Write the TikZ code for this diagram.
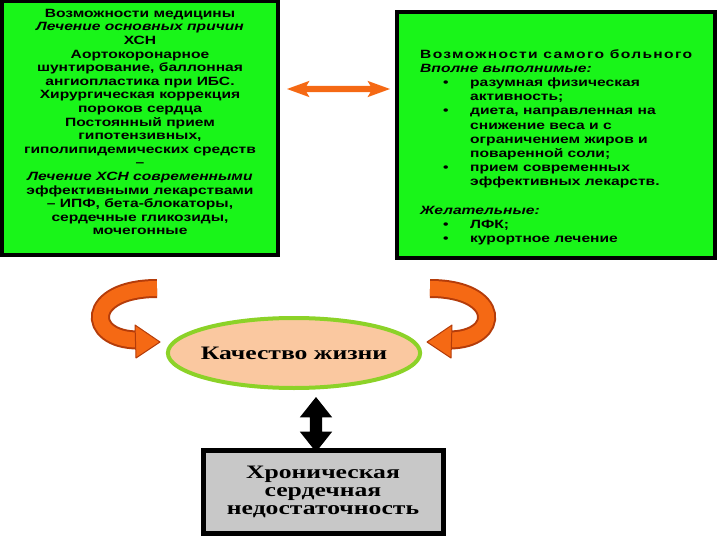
\documentclass[tikz,border=0pt]{standalone}
\usepackage{fontspec}
\setmainfont{Liberation Serif}
\newfontfamily\boxfont[FakeStretch=1.3]{Liberation Sans}
\newfontfamily\widserif[FakeStretch=1.35]{Liberation Serif}
\usetikzlibrary{shapes.geometric,shapes.arrows}
\definecolor{boxgreen}{RGB}{25,245,25}
\definecolor{arroworange}{RGB}{245,105,20}
\definecolor{arrowdark}{RGB}{180,60,10}
\definecolor{peach}{RGB}{250,200,160}
\definecolor{limeedge}{RGB}{140,210,40}
\definecolor{greyfill}{RGB}{200,200,200}
\newcommand\rbul{\makebox[50pt][l]{\hspace*{23pt}\textbullet}}
\newcommand\rcont{\hspace*{50pt}}
\tikzset{
  greenbox/.style={draw=black, line width=4pt, fill=boxgreen},
  boxtext/.style={font=\boxfont\bfseries\fontsize{12}{13.6}\selectfont, inner sep=0pt},
  curvtail/.style={line width=19pt, draw=arrowdark},
  curvbody/.style={line width=15pt, draw=arroworange},
  curvhead/.style={fill=arroworange, draw=arrowdark, line width=1pt, line join=round},
}
\begin{document}
\begin{tikzpicture}[x=1pt,y=-1pt]
\useasboundingbox (0,0) rectangle (720,540);
% green boxes
\draw[greenbox] (2,1) rectangle (278,255);
\draw[greenbox] (397,12) rectangle (715,258);
\node[boxtext, align=center] (lt) at (140,122) {Возможности медицины\\
\textit{Лечение основных причин}\\
ХСН\\
Аортокоронарное\\
шунтирование, баллонная\\
ангиопластика при ИБС.\\
Хирургическая коррекция\\
пороков сердца\\
Постоянный прием\\
гипотензивных,\\
гиполипидемических средств\\
–\\
\textit{Лечение ХСН современными}\\
эффективными лекарствами\\
– ИПФ, бета-блокаторы,\\
сердечные гликозиды,\\
мочегонные};
\node[boxtext, font=\boxfont\bfseries\fontsize{12}{14.2}\selectfont, align=left, anchor=north west] (rt) at (420,49)
{{\addfontfeature{LetterSpace=11}Возможности самого больного}\\
\textit{Вполне выполнимые:}\\
\rbul разумная физическая\\
\rcont активность;\\
\rbul диета, направленная на\\
\rcont снижение веса и с\\
\rcont ограничением жиров и\\
\rcont поваренной соли;\\
\rbul прием современных\\
\rcont эффективных лекарств.\\
\mbox{}\\
\textit{Желательные:}\\
\rbul ЛФК;\\
\rbul курортное лечение};
% horizontal orange double arrow
\node[double arrow, fill=arroworange, inner xsep=0pt, inner ysep=3pt, minimum height=103pt,
      double arrow head extend=5pt, double arrow tip angle=40, double arrow head indent=3pt] (harr) at (338.5,89) {};
% ellipse
\node[ellipse, draw=limeedge, line width=4pt, fill=peach, minimum width=252pt, minimum height=70pt,
      inner xsep=-4pt, inner ysep=8pt,
      font=\widserif\bfseries\fontsize{19}{22}\selectfont] (q) at (294,353) {Качество жизни};
% curved arrows
\draw[curvtail] (157,288.5) .. controls (85,288.5) and (85,340) .. (138,340);
\draw[curvbody] (157,288.5) .. controls (85,288.5) and (85,340) .. (138,340);
\draw[curvhead] (135,325) -- (160,342) -- (136,358) -- cycle;
\draw[curvtail] (430,288.5) .. controls (502,288.5) and (502,340) .. (449,340);
\draw[curvbody] (430,288.5) .. controls (502,288.5) and (502,340) .. (449,340);
\draw[curvhead] (452,325) -- (427,342) -- (451,358) -- cycle;
% grey box
\node[draw=black, line width=5pt, fill=greyfill, minimum width=240pt, minimum height=83pt, align=center,
      font=\widserif\bfseries\fontsize{19}{18}\selectfont, inner sep=0pt] (hsn) at (323,491.5)
      {Хроническая\\ сердечная\\ недостаточность};
% vertical double black arrow
\node[double arrow, rotate=90, fill=black, inner xsep=0pt, inner ysep=6pt, minimum height=55pt,
      double arrow head extend=10pt, double arrow tip angle=77] (varr) at (316,424.5) {};
\end{tikzpicture}
\end{document}
